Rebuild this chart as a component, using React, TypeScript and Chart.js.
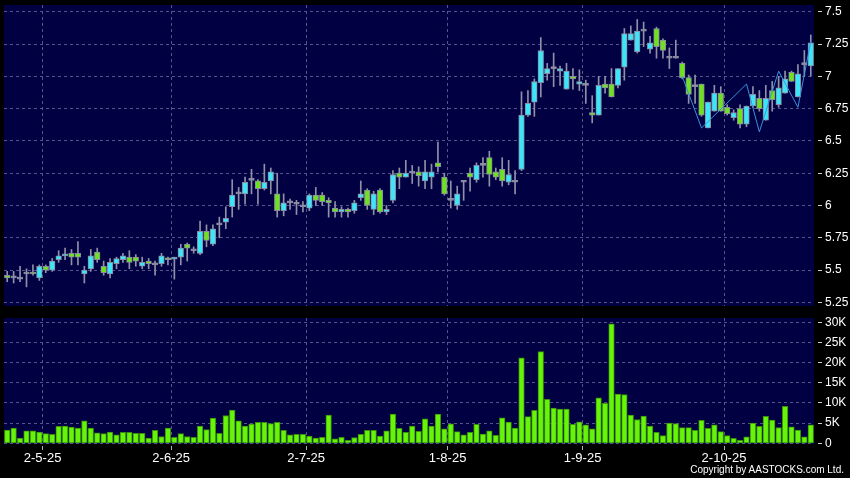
import React, { useEffect, useRef } from 'react';
import { Chart, registerables } from 'chart.js';

Chart.register(...registerables);

// ---- data (one entry per trading day, Apr 23 2025 .. Oct 22 2025) ----
const opens = [
  5.46, 5.44, 5.43, 5.47, 5.48, 5.44, 5.53, 5.50, 5.58, 5.61,
  5.63, 5.63, 5.47, 5.51, 5.64, 5.53, 5.47, 5.55, 5.58, 5.60,
  5.60, 5.53, 5.57, 5.54, 5.55, 5.59, 5.585, 5.60, 5.70, 5.65,
  5.63, 5.80, 5.70, 5.85, 5.87, 5.99, 6.09, 6.09, 6.195, 6.19,
  6.13, 6.19, 6.09, 5.96, 6.02, 6.01, 5.99, 5.98, 6.08, 6.08,
  6.04, 5.98, 5.95, 5.97, 5.96, 6.06, 6.12, 5.97, 6.12, 5.95,
  6.04, 6.25, 6.22, 6.25, 6.26, 6.19, 6.22, 6.33, 6.22, 6.04,
  6.00, 6.18, 6.25, 6.20, 6.31, 6.37, 6.26, 6.28, 6.18, 6.18,
  6.28, 6.70, 6.80, 6.95, 7.02, 7.06, 7.04, 6.90, 7.00, 6.94,
  6.93, 6.72, 6.70, 6.94, 6.94, 6.93, 7.07, 7.28, 7.19, 7.35,
  7.21, 7.37, 7.28, 7.14, 7.14, 7.10, 6.99, 6.92, 6.94, 6.60,
  6.73, 6.87, 6.76, 6.68, 6.75, 6.63, 6.77, 6.83, 6.66, 6.89,
  6.78, 6.87, 7.03, 6.84, 7.09, 7.08,
];
const highs = [
  5.49, 5.49, 5.53, 5.51, 5.54, 5.54, 5.54, 5.59, 5.65, 5.67,
  5.66, 5.72, 5.53, 5.66, 5.67, 5.57, 5.59, 5.60, 5.63, 5.65,
  5.62, 5.60, 5.59, 5.57, 5.63, 5.60, 5.60, 5.70, 5.71, 5.68,
  5.88, 5.85, 5.85, 5.91, 5.99, 6.20, 6.14, 6.22, 6.28, 6.20,
  6.32, 6.29, 6.25, 6.09, 6.05, 6.04, 6.03, 6.09, 6.14, 6.10,
  6.06, 6.03, 5.99, 5.98, 6.04, 6.19, 6.13, 6.11, 6.13, 6.00,
  6.27, 6.29, 6.35, 6.31, 6.30, 6.35, 6.32, 6.49, 6.25, 6.19,
  6.15, 6.19, 6.29, 6.33, 6.37, 6.42, 6.29, 6.37, 6.35, 6.27,
  6.88, 6.89, 6.98, 7.30, 7.10, 7.18, 7.08, 7.10, 7.06, 7.05,
  6.97, 6.85, 7.00, 7.00, 7.06, 7.06, 7.37, 7.39, 7.44, 7.42,
  7.31, 7.38, 7.29, 7.22, 7.28, 7.11, 7.01, 7.01, 6.94, 6.80,
  6.93, 6.92, 6.78, 6.74, 6.78, 6.77, 6.92, 6.89, 6.93, 6.96,
  7.00, 7.04, 7.04, 7.09, 7.20, 7.32,
];
const lows = [
  5.41, 5.40, 5.41, 5.37, 5.46, 5.42, 5.48, 5.49, 5.56, 5.58,
  5.54, 5.54, 5.40, 5.49, 5.56, 5.46, 5.44, 5.51, 5.56, 5.51,
  5.53, 5.51, 5.51, 5.46, 5.53, 5.54, 5.43, 5.54, 5.57, 5.63,
  5.62, 5.68, 5.69, 5.75, 5.82, 5.91, 5.97, 6.01, 6.09, 6.01,
  6.12, 6.09, 5.91, 5.92, 5.97, 5.93, 5.95, 5.96, 6.00, 6.00,
  5.91, 5.91, 5.91, 5.91, 5.94, 6.04, 5.97, 5.93, 5.94, 5.93,
  6.02, 6.13, 6.22, 6.17, 6.15, 6.13, 6.13, 6.26, 6.08, 5.98,
  5.97, 6.04, 6.11, 6.18, 6.22, 6.15, 6.20, 6.15, 6.16, 6.09,
  6.27, 6.69, 6.69, 6.84, 6.97, 6.92, 6.93, 6.90, 6.90, 6.89,
  6.79, 6.64, 6.70, 6.87, 6.84, 6.91, 6.97, 7.28, 7.18, 7.23,
  7.18, 7.14, 7.14, 7.06, 7.14, 6.98, 6.79, 6.79, 6.69, 6.60,
  6.73, 6.73, 6.70, 6.66, 6.60, 6.61, 6.76, 6.73, 6.66, 6.73,
  6.76, 6.87, 6.96, 6.84, 7.00, 7.00,
];
const closes = [
  5.44, 5.44, 5.43, 5.47, 5.47, 5.53, 5.50, 5.57, 5.61, 5.62,
  5.60, 5.60, 5.50, 5.61, 5.58, 5.48, 5.56, 5.59, 5.61, 5.56,
  5.57, 5.56, 5.55, 5.54, 5.61, 5.58, 5.60, 5.67, 5.67, 5.65,
  5.80, 5.73, 5.82, 5.85, 5.90, 6.08, 6.09, 6.18, 6.195, 6.13,
  6.18, 6.26, 5.96, 6.02, 6.02, 6.01, 5.99, 6.08, 6.04, 6.03,
  6.02, 5.95, 5.97, 5.95, 6.02, 6.09, 6.00, 6.09, 5.95, 5.97,
  6.24, 6.22, 6.25, 6.25, 6.23, 6.26, 6.26, 6.30, 6.09, 6.04,
  6.09, 6.18, 6.22, 6.31, 6.31, 6.24, 6.22, 6.19, 6.24, 6.18,
  6.70, 6.79, 6.96, 7.20, 7.06, 7.06, 7.06, 7.04, 6.98, 6.96,
  6.93, 6.70, 6.93, 6.91, 6.84, 7.06, 7.33, 7.33, 7.35, 7.35,
  7.26, 7.23, 7.20, 7.14, 7.14, 6.99, 6.86, 6.92, 6.70, 6.80,
  6.87, 6.73, 6.71, 6.72, 6.63, 6.77, 6.86, 6.75, 6.83, 6.82,
  6.91, 6.98, 6.96, 7.02, 7.09, 7.26,
];
const volumes = [
  3300, 3800, 1300, 3100, 3100, 2800, 2400, 2250, 4200, 4250,
  4000, 3750, 5600, 3800, 2600, 2400, 2800, 2100, 2750, 2750,
  2500, 2500, 1300, 3200, 1700, 3800, 1500, 2400, 1700, 1500,
  4300, 3400, 6250, 2500, 6900, 8250, 5600, 4250, 4750, 5200,
  5200, 4900, 5200, 3250, 2100, 2250, 2250, 1800, 1300, 1500,
  7000, 1100, 1500, 750, 1400, 2250, 3250, 3250, 1800, 3100,
  7250, 3700, 2700, 4250, 3000, 6100, 4300, 7250, 3600, 4800,
  2900, 2100, 2750, 4700, 2300, 3100, 2000, 6300, 5250, 3750,
  21200, 6600, 8200, 22750, 10900, 8750, 8500, 8500, 4700, 5300,
  4600, 3600, 11250, 9900, 29600, 12200, 12100, 7000, 5900, 6750,
  4300, 2700, 1900, 5000, 4900, 3900, 3900, 3250, 5700, 3700,
  4600, 2900, 1900, 1250, 750, 1600, 5000, 4200, 6700, 5750,
  3900, 9200, 4100, 3300, 1600, 4600,
];

// thin overlay line (day index, price)
const overlayIdx = [105, 108, 115, 117, 120, 123, 125];
const overlayVals = [7.0, 6.6, 6.94, 6.57, 7.04, 6.76, 7.27];

// first trading day of each month (day index) and its label
const monthStartIdx = [6, 26, 47, 69, 90, 112];
const monthLabels = ['2-5-25', '2-6-25', '2-7-25', '1-8-25', '1-9-25', '2-10-25'];

const priceTicks = [5.25, 5.5, 5.75, 6, 6.25, 6.5, 6.75, 7, 7.25, 7.5];
const volumeTicks = [0, 5000, 10000, 15000, 20000, 25000, 30000];

// ---- styles ----
const NAVY = '#000042';
const GRID = '#55558c';
const UP = '#3ce6f8';
const DOWN = '#6ee21e';
const DOJI = '#9a9ab2';
const EDGE = '#8a8aa2';
const WICK = '#9090a8';
const VOL = '#66f40a';
const VOL_EDGE = '#3a8f08';
const LINE = '#3a92dc';
const FONT = '"Liberation Sans", Arial, sans-serif';

const panelBg = {
  id: 'panelBg',
  beforeDraw(chart: any) {
    const { ctx, chartArea: a } = chart;
    ctx.save();
    ctx.fillStyle = NAVY;
    ctx.fillRect(a.left, a.top, a.right - a.left, a.bottom - a.top);
    ctx.restore();
  },
};

const N = opens.length;

function xScale(showLabels: boolean): any {
  return {
    type: 'linear',
    min: -0.5,
    max: N - 0.5,
    offset: false,
    afterBuildTicks: (s: any) => {
      s.ticks = monthStartIdx.map((i) => ({ value: i - 0.5 }));
    },
    ticks: {
      display: showLabels,
      autoSkip: false,
      maxRotation: 0,
      minRotation: 0,
      color: '#ffffff',
      font: { family: FONT, size: 13 },
      padding: 1,
      callback: (v: number) => {
        const k = monthStartIdx.indexOf(Math.round(v + 0.5));
        return k >= 0 ? monthLabels[k] : '';
      },
    },
    grid: {
      offset: false,
      color: GRID,
      lineWidth: 1,
      drawTicks: showLabels,
      tickLength: 6,
      tickColor: '#b0b0b0',
      tickBorderDash: [0, 2, 4, 20],
      borderDash: [3, 3],
    },
    border: { display: false, dash: [3, 3] },
    afterFit: (s: any) => {
      s.height = showLabels ? 34 : 0;
      s.paddingLeft = 0;
      s.paddingRight = 0;
    },
  };
}

function yScale(min: number, max: number, ticks: number[], fmt: (v: number) => string): any {
  return {
    position: 'right',
    min,
    max,
    afterBuildTicks: (s: any) => {
      s.ticks = ticks.map((v) => ({ value: v }));
    },
    ticks: {
      color: '#ffffff',
      font: { family: FONT, size: 12 },
      padding: 3,
      callback: (v: number) => fmt(v),
    },
    grid: {
      color: GRID,
      lineWidth: 1,
      tickLength: 8,
      tickColor: '#d0d0d0',
      tickBorderDash: [0, 4, 4, 20],
      borderDash: [3, 3],
    },
    border: { display: false, dash: [3, 3] },
    afterFit: (s: any) => {
      s.width = 36;
      s.paddingTop = 0;
      s.paddingBottom = 0;
    },
  };
}

export default function App() {
  const priceRef = useRef<HTMLCanvasElement>(null);
  const volRef = useRef<HTMLCanvasElement>(null);

  useEffect(() => {
    const bodyColors = opens.map((o, i) =>
      closes[i] > o ? UP : closes[i] < o ? DOWN : DOJI
    );

    const priceChart = new Chart(priceRef.current!, {
      type: 'bar',
      data: {
        datasets: [
          {
            type: 'line',
            data: overlayIdx.map((x, k) => ({ x, y: overlayVals[k] })),
            borderColor: LINE,
            borderWidth: 1,
            pointRadius: 0,
            tension: 0,
            order: 0,
          } as any,
          {
            data: opens.map((o, i) => ({ x: i, y: [o, closes[i]] })),
            backgroundColor: bodyColors,
            borderColor: EDGE,
            borderWidth: 1,
            borderSkipped: false,
            minBarLength: 2,
            grouped: false,
            barThickness: 5.6,
            order: 1,
          } as any,
          {
            data: lows.map((l, i) => ({ x: i, y: [l, highs[i]] })),
            backgroundColor: WICK,
            borderWidth: 0,
            barThickness: 1,
            grouped: false,
            order: 2,
          } as any,
        ],
      },
      options: {
        animation: false,
        responsive: false,
        maintainAspectRatio: false,
        layout: { padding: { left: 4, top: 5, bottom: 4, right: 0 } },
        plugins: { legend: { display: false }, tooltip: { enabled: false } },
        scales: {
          x: xScale(false),
          y: yScale(5.2221, 7.5519, priceTicks, (v) => String(v)),
        },
      },
      plugins: [panelBg],
    });

    const volChart = new Chart(volRef.current!, {
      type: 'bar',
      data: {
        datasets: [
          {
            data: volumes.map((v, i) => ({ x: i, y: v })),
            backgroundColor: VOL,
            borderColor: VOL_EDGE,
            borderWidth: 1,
            borderSkipped: false,
            barThickness: 5.6,
          } as any,
        ],
      },
      options: {
        animation: false,
        responsive: false,
        maintainAspectRatio: false,
        layout: { padding: { left: 4, top: 8, bottom: 0, right: 0 } },
        plugins: { legend: { display: false }, tooltip: { enabled: false } },
        scales: {
          x: xScale(true),
          y: yScale(-170, 31070, volumeTicks, (v) => (v === 0 ? '0' : v / 1000 + 'K')),
        },
      },
      plugins: [panelBg],
    });

    return () => {
      priceChart.destroy();
      volChart.destroy();
    };
  }, []);

  return (
    <div
      style={{
        position: 'fixed',
        left: 0,
        top: 0,
        width: 850,
        height: 478,
        background: '#000',
        overflow: 'hidden',
      }}
    >
      <canvas
        ref={priceRef}
        width={850}
        height={310}
        style={{ position: 'absolute', left: 0, top: 0, width: 850, height: 310 }}
      />
      <canvas
        ref={volRef}
        width={850}
        height={168}
        style={{ position: 'absolute', left: 0, top: 310, width: 850, height: 168 }}
      />
      <div
        style={{
          position: 'absolute',
          right: 6,
          top: 464,
          color: '#fff',
          font: '10px "Liberation Sans", Arial, sans-serif',
          lineHeight: '12px',
          whiteSpace: 'nowrap',
        }}
      >
        Copyright by AASTOCKS.com Ltd.
      </div>
    </div>
  );
}
